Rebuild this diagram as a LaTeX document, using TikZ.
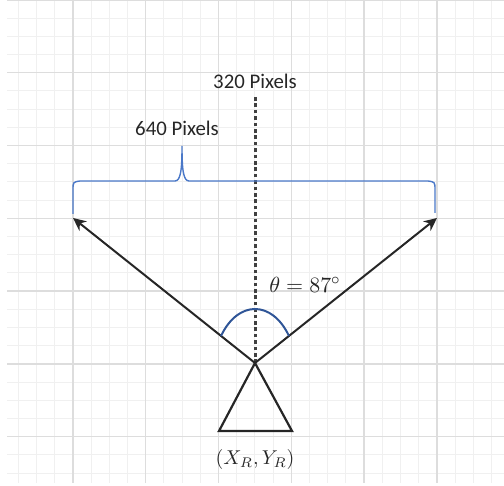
\documentclass[tikz,border=0pt]{standalone}
\usepackage[no-math]{fontspec}
\setmainfont{Carlito}
\usepackage{xcolor}
\usepackage{tikz}
\usetikzlibrary{arrows.meta}
\definecolor{gridMajor}{HTML}{DDDDDD}
\definecolor{gridMinor}{HTML}{F0F0F0}
\definecolor{braceBlue}{HTML}{4A78C8}
\definecolor{arcBlue}{HTML}{2F5597}
\definecolor{dashGray}{HTML}{404040}

\tikzset{
    rayline/.style={draw=black!85, line width=1pt, -{Stealth[length=6.5pt, width=6pt]}},
    centerline/.style={draw=dashGray, line width=1.5pt, dash pattern=on 1.8pt off 1.4pt},
    pixlabel/.style={font=\fontsize{10.4}{12}\selectfont, text=black!85, inner sep=0pt},
    mathlabel/.style={font=\fontsize{10.8}{13}\selectfont, text=black!85, inner sep=0pt}
}

\begin{document}
\begin{tikzpicture}[x=0.5pt, y=-0.5pt]
        \useasboundingbox (0,0) rectangle (504,486);
        % background grid
        \draw[gridMinor, line width=0.5pt, step=9.1pt] (7,0) grid (504,483);
        \draw[gridMajor, line width=0.7pt, step=36.4pt] (7,0) grid (504,483);

        % robot and ray ends
        \coordinate (apex) at (255,363);
        \coordinate (baseL) at (219,431);
        \coordinate (baseR) at (292,431);
        \coordinate (leftEnd) at (73,218);
        \coordinate (rightEnd) at (437,218);
        \coordinate (dashTop) at (255,97);

        \draw[centerline] (dashTop) -- (apex);
        \draw[rayline] (apex) -- (leftEnd);
        \draw[rayline] (apex) -- (rightEnd);
        \draw[black!85, line width=1.1pt, line join=miter] (apex) -- (baseL) -- (baseR) -- cycle;

        % field of view arc
        \coordinate (arcL) at (221,336);
        \coordinate (arcR) at (289,336);
        \draw[arcBlue, line width=1pt] (arcL) .. controls (238,300) and (272,300) .. (arcR);

        % width brace
        \draw[braceBlue, line width=0.7pt]
            (73,214) -- (73,190) .. controls (73,182) .. (80,181)
            -- (175,181) .. controls (181,181) and (182,168) .. (182,146)
            .. controls (182,168) and (183,181) .. (189,181)
            -- (428,181) .. controls (435,182) .. (435,190) -- (435,213);

        % labels
        \node[pixlabel] (fovLabel) at (255,81) {320 Pixels};
        \node[pixlabel] (widthLabel) at (177,128) {640 Pixels};
        \node[mathlabel] (angleLabel) at (305,285) {$\theta = 87^\circ$};
        \node[mathlabel, font=\fontsize{9.6}{12}\selectfont] (robotLabel) at (255,460) {$(X_R, Y_R)$};
    \end{tikzpicture}
\end{document}
